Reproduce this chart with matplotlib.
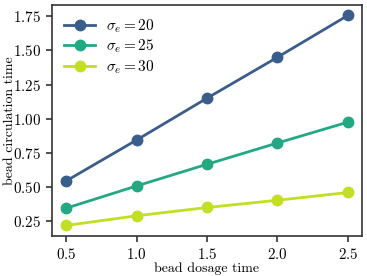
import matplotlib
matplotlib.use('Agg')
import matplotlib.pyplot as plt

plt.rcParams['font.family'] = 'serif'
plt.rcParams['font.serif'] = ['cmr10']
plt.rcParams['mathtext.fontset'] = 'cm'
plt.rcParams['axes.formatter.use_mathtext'] = True

dosage = [0.5, 1.0, 1.5, 2.0, 2.5]
circ_20 = [0.543, 0.843, 1.150, 1.450, 1.757]
circ_25 = [0.343, 0.506, 0.665, 0.821, 0.974]
circ_30 = [0.216, 0.287, 0.348, 0.401, 0.458]
labels = [r'$\sigma_e = 20$', r'$\sigma_e = 25$', r'$\sigma_e = 30$']
colors = ['#3a5d8b', '#23a883', '#c2df23']

fig = plt.figure(figsize=(3.67, 2.76), dpi=100)
ax = fig.add_axes([0.142, 0.145, 0.844, 0.837])

for ys, lab, c in zip([circ_20, circ_25, circ_30], labels, colors):
    ax.plot(dosage, ys, marker='o', markersize=7.5, linewidth=2, color=c, label=lab)

ax.set_xticks([0.5, 1.0, 1.5, 2.0, 2.5])
ax.set_yticks([0.25, 0.5, 0.75, 1.0, 1.25, 1.5, 1.75])
ax.set_xlabel('bead dosage time', fontsize=10)
ax.set_ylabel('bead circulation time', fontsize=10)
ax.xaxis.set_label_coords(0.5, -0.115)
ax.yaxis.set_label_coords(-0.118, 0.5)
ax.tick_params(labelsize=10.8, width=1.2, length=4, color='#333333', pad=4)
for s in ax.spines.values():
    s.set_linewidth(1.2)
    s.set_color('#333333')

ax.legend(loc='upper left', frameon=False, fontsize=11, handlelength=2.0,
          borderaxespad=0.4, labelspacing=0.2, handletextpad=0.7)

plt.savefig('out.png', dpi=100)
